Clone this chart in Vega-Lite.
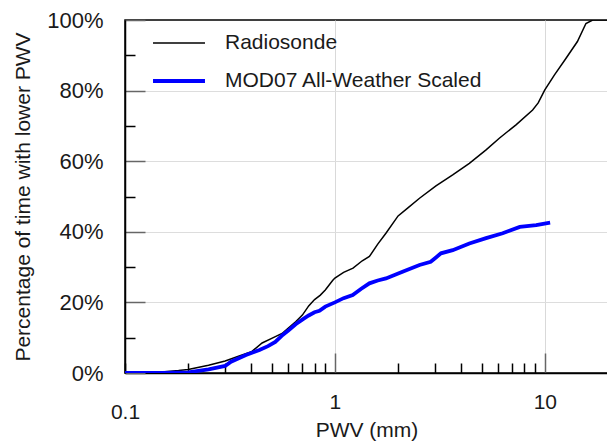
{
  "$schema": "https://vega.github.io/schema/vega-lite/v6.json",
  "width": 483,
  "height": 353,
  "autosize": {"type": "none"},
  "padding": {"left": 125, "top": 20, "right": 0, "bottom": 69},
  "background": "white",
  "config": {
    "font": "Liberation Sans",
    "view": {"stroke": "black", "strokeWidth": 1.5},
    "axis": {"labelFont": "Liberation Sans", "titleFont": "Liberation Sans", "labelColor": "#1a1a1a", "titleColor": "#1a1a1a", "titleFontWeight": "normal", "domainColor": "black", "domainWidth": 1.5}
  },
  "data": {
    "values": [
      {"pwv": 0.1, "pct": 0, "series": "Radiosonde"},
      {"pwv": 0.12, "pct": 0.1, "series": "Radiosonde"},
      {"pwv": 0.15, "pct": 0.3, "series": "Radiosonde"},
      {"pwv": 0.18, "pct": 0.7, "series": "Radiosonde"},
      {"pwv": 0.2, "pct": 1.0, "series": "Radiosonde"},
      {"pwv": 0.25, "pct": 2.2, "series": "Radiosonde"},
      {"pwv": 0.3, "pct": 3.4, "series": "Radiosonde"},
      {"pwv": 0.35, "pct": 4.8, "series": "Radiosonde"},
      {"pwv": 0.4, "pct": 6.0, "series": "Radiosonde"},
      {"pwv": 0.45, "pct": 8.5, "series": "Radiosonde"},
      {"pwv": 0.5, "pct": 9.8, "series": "Radiosonde"},
      {"pwv": 0.56, "pct": 11.2, "series": "Radiosonde"},
      {"pwv": 0.6, "pct": 12.7, "series": "Radiosonde"},
      {"pwv": 0.65, "pct": 14.5, "series": "Radiosonde"},
      {"pwv": 0.7, "pct": 16.4, "series": "Radiosonde"},
      {"pwv": 0.75, "pct": 19.0, "series": "Radiosonde"},
      {"pwv": 0.8, "pct": 20.8, "series": "Radiosonde"},
      {"pwv": 0.85, "pct": 22.0, "series": "Radiosonde"},
      {"pwv": 0.9, "pct": 23.5, "series": "Radiosonde"},
      {"pwv": 0.975, "pct": 26.2, "series": "Radiosonde"},
      {"pwv": 1.0, "pct": 26.9, "series": "Radiosonde"},
      {"pwv": 1.1, "pct": 28.5, "series": "Radiosonde"},
      {"pwv": 1.22, "pct": 29.7, "series": "Radiosonde"},
      {"pwv": 1.35, "pct": 31.8, "series": "Radiosonde"},
      {"pwv": 1.46, "pct": 33.0, "series": "Radiosonde"},
      {"pwv": 1.6, "pct": 36.5, "series": "Radiosonde"},
      {"pwv": 1.75, "pct": 39.6, "series": "Radiosonde"},
      {"pwv": 2.0, "pct": 44.5, "series": "Radiosonde"},
      {"pwv": 2.22, "pct": 46.7, "series": "Radiosonde"},
      {"pwv": 2.53, "pct": 49.5, "series": "Radiosonde"},
      {"pwv": 3.03, "pct": 53.0, "series": "Radiosonde"},
      {"pwv": 3.64, "pct": 56.1, "series": "Radiosonde"},
      {"pwv": 4.37, "pct": 59.4, "series": "Radiosonde"},
      {"pwv": 5.25, "pct": 63.2, "series": "Radiosonde"},
      {"pwv": 6.07, "pct": 66.5, "series": "Radiosonde"},
      {"pwv": 7.29, "pct": 70.3, "series": "Radiosonde"},
      {"pwv": 8.75, "pct": 74.5, "series": "Radiosonde"},
      {"pwv": 9.3, "pct": 76.5, "series": "Radiosonde"},
      {"pwv": 10.0, "pct": 80.2, "series": "Radiosonde"},
      {"pwv": 11.1, "pct": 84.4, "series": "Radiosonde"},
      {"pwv": 12.6, "pct": 89.1, "series": "Radiosonde"},
      {"pwv": 14.3, "pct": 93.9, "series": "Radiosonde"},
      {"pwv": 15.7, "pct": 99.0, "series": "Radiosonde"},
      {"pwv": 16.9, "pct": 100, "series": "Radiosonde"},
      {"pwv": 20, "pct": 100, "series": "Radiosonde"},
      {"pwv": 0.1, "pct": 0, "series": "MOD07 All-Weather Scaled"},
      {"pwv": 0.15, "pct": 0, "series": "MOD07 All-Weather Scaled"},
      {"pwv": 0.2, "pct": 0.2, "series": "MOD07 All-Weather Scaled"},
      {"pwv": 0.25, "pct": 1.0, "series": "MOD07 All-Weather Scaled"},
      {"pwv": 0.3, "pct": 2.0, "series": "MOD07 All-Weather Scaled"},
      {"pwv": 0.32, "pct": 3.2, "series": "MOD07 All-Weather Scaled"},
      {"pwv": 0.377, "pct": 5.1, "series": "MOD07 All-Weather Scaled"},
      {"pwv": 0.437, "pct": 6.5, "series": "MOD07 All-Weather Scaled"},
      {"pwv": 0.48, "pct": 7.6, "series": "MOD07 All-Weather Scaled"},
      {"pwv": 0.52, "pct": 8.8, "series": "MOD07 All-Weather Scaled"},
      {"pwv": 0.564, "pct": 10.8, "series": "MOD07 All-Weather Scaled"},
      {"pwv": 0.6, "pct": 12.0, "series": "MOD07 All-Weather Scaled"},
      {"pwv": 0.65, "pct": 13.8, "series": "MOD07 All-Weather Scaled"},
      {"pwv": 0.702, "pct": 15.2, "series": "MOD07 All-Weather Scaled"},
      {"pwv": 0.75, "pct": 16.3, "series": "MOD07 All-Weather Scaled"},
      {"pwv": 0.8, "pct": 17.2, "series": "MOD07 All-Weather Scaled"},
      {"pwv": 0.844, "pct": 17.6, "series": "MOD07 All-Weather Scaled"},
      {"pwv": 0.9, "pct": 18.8, "series": "MOD07 All-Weather Scaled"},
      {"pwv": 1.0, "pct": 20.0, "series": "MOD07 All-Weather Scaled"},
      {"pwv": 1.1, "pct": 21.2, "series": "MOD07 All-Weather Scaled"},
      {"pwv": 1.216, "pct": 22.1, "series": "MOD07 All-Weather Scaled"},
      {"pwv": 1.33, "pct": 23.8, "series": "MOD07 All-Weather Scaled"},
      {"pwv": 1.46, "pct": 25.4, "series": "MOD07 All-Weather Scaled"},
      {"pwv": 1.6, "pct": 26.2, "series": "MOD07 All-Weather Scaled"},
      {"pwv": 1.75, "pct": 26.8, "series": "MOD07 All-Weather Scaled"},
      {"pwv": 2.1, "pct": 28.7, "series": "MOD07 All-Weather Scaled"},
      {"pwv": 2.53, "pct": 30.6, "series": "MOD07 All-Weather Scaled"},
      {"pwv": 2.86, "pct": 31.5, "series": "MOD07 All-Weather Scaled"},
      {"pwv": 3.0, "pct": 32.5, "series": "MOD07 All-Weather Scaled"},
      {"pwv": 3.2, "pct": 33.9, "series": "MOD07 All-Weather Scaled"},
      {"pwv": 3.64, "pct": 34.8, "series": "MOD07 All-Weather Scaled"},
      {"pwv": 4.37, "pct": 36.7, "series": "MOD07 All-Weather Scaled"},
      {"pwv": 5.25, "pct": 38.2, "series": "MOD07 All-Weather Scaled"},
      {"pwv": 6.3, "pct": 39.6, "series": "MOD07 All-Weather Scaled"},
      {"pwv": 7.6, "pct": 41.4, "series": "MOD07 All-Weather Scaled"},
      {"pwv": 9.1, "pct": 41.9, "series": "MOD07 All-Weather Scaled"},
      {"pwv": 10.6, "pct": 42.6, "series": "MOD07 All-Weather Scaled"}
    ]
  },
  "mark": {"type": "line", "clip": true},
  "encoding": {
    "x": {
      "field": "pwv", "type": "quantitative",
      "scale": {"type": "log", "domain": [0.1, 20]},
      "axis": {
        "title": "PWV (mm)", "titleFontSize": 21, "titlePadding": -3,
        "values": [0.1, 0.2, 0.3, 0.4, 0.5, 0.6, 0.7, 0.8, 0.9, 1, 2, 3, 4, 5, 6, 7, 8, 9, 10],
        "labelExpr": "datum.value == 0.1 || datum.value == 1 || datum.value == 10 ? datum.label : ''",
        "labelFontSize": 21, "labelPadding": 38, "labelFlush": false, "labelOverlap": false,
        "tickSize": {"condition": {"test": "datum.value == 1 || datum.value == 10", "value": -20}, "value": -10},
        "tickColor": {"condition": {"test": "datum.value == 1 || datum.value == 10", "value": "#666"}, "value": "black"},
        "tickWidth": 1.5,
        "grid": true,
        "gridColor": {"condition": {"test": "datum.value == 1 || datum.value == 10", "value": "#d9d9d9"}, "value": "transparent"},
        "gridWidth": 1
      }
    },
    "y": {
      "field": "pct", "type": "quantitative",
      "scale": {"domain": [0, 100], "nice": false},
      "axis": {
        "title": "Percentage of time with lower PWV", "titleFontSize": 21, "titlePadding": 13,
        "values": [0, 10, 20, 30, 40, 50, 60, 70, 80, 90, 100],
        "labelExpr": "datum.value % 20 == 0 ? datum.value + '%' : ''",
        "labelFontSize": 22, "labelPadding": 42,
        "tickSize": {"condition": {"test": "datum.value % 20 == 0", "value": -20}, "value": -10},
        "tickColor": {"condition": {"test": "datum.value % 20 == 0", "value": "#666"}, "value": "black"},
        "tickWidth": 1.5,
        "grid": true,
        "gridColor": {"condition": {"test": "datum.value % 20 == 0 && datum.value > 0 && datum.value < 100", "value": "#dddddd"}, "value": "transparent"},
        "gridWidth": 1
      }
    },
    "color": {
      "field": "series", "type": "nominal",
      "scale": {"domain": ["Radiosonde", "MOD07 All-Weather Scaled"], "range": ["black", "#0000ff"]},
      "legend": {
        "title": null, "orient": "none", "legendX": 26, "legendY": -4,
        "labelFontSize": 21, "labelFont": "Liberation Sans", "labelColor": "#1a1a1a", "labelLimit": 400,
        "symbolType": "stroke", "symbolSize": 2700, "rowPadding": -10, "labelOffset": 18
      }
    },
    "strokeWidth": {
      "field": "series", "type": "nominal",
      "scale": {"domain": ["Radiosonde", "MOD07 All-Weather Scaled"], "range": [1.5, 3.8]},
      "legend": {
        "title": null, "orient": "none", "legendX": 26, "legendY": -4,
        "labelFontSize": 21, "labelFont": "Liberation Sans", "labelColor": "#1a1a1a", "labelLimit": 400,
        "symbolType": "stroke", "symbolSize": 2700, "rowPadding": -10, "labelOffset": 18
      }
    }
  }
}
